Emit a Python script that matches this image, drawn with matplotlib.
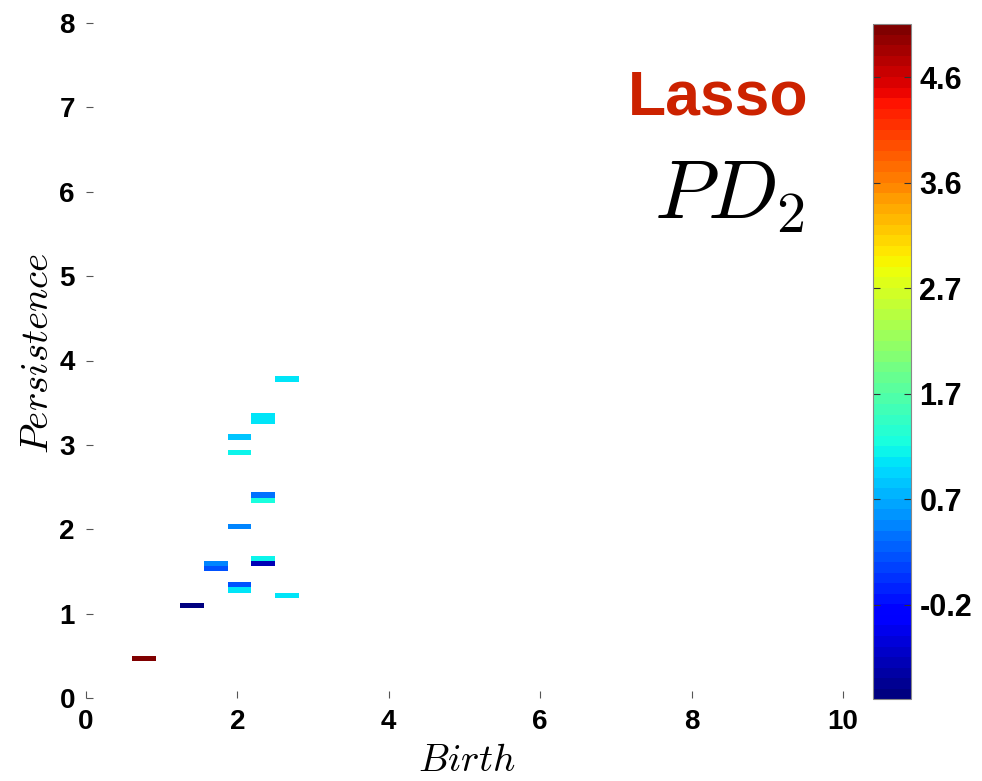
import numpy as np
import matplotlib
matplotlib.use("Agg")
import matplotlib.pyplot as plt
from matplotlib.colors import ListedColormap

# Persistence-diagram cells: birth (bin centre), persistence (bin centre), coefficient
birth = [2.6575, 2.3425, 2.3425, 2.0275, 2.0275, 2.3425, 2.3425, 2.0275, 2.3425,
         2.3425, 1.7125, 1.7125, 2.0275, 2.0275, 2.6575, 1.3975, 0.7675]
persistence = [3.78125, 3.34375, 3.28125, 3.09375, 2.90625, 2.40625, 2.34375, 2.03125,
               1.65625, 1.59375, 1.59375, 1.53125, 1.34375, 1.28125, 1.21875, 1.09375, 0.46875]
coefficient = [1.08, 1.12, 1.12, 0.86, 1.15, 0.46, 1.25, 0.55,
               1.20, -0.68, 0.52, 0.27, 0.20, 1.06, 1.12, -1.06, 5.08]

x_ticks = [0, 2, 4, 6, 8, 10]
y_ticks = [0, 1, 2, 3, 4, 5, 6, 7, 8]
cbar_ticks = [-0.2, 0.76, 1.72, 2.68, 3.64, 4.6]
cbar_labels = ["-0.2", "0.7", "1.7", "2.7", "3.6", "4.6"]

# Grid used to rasterise the diagram
birth_start, birth_step, n_birth = 0.61, 0.315, 7
pers_step, n_pers = 0.0625, 64

plt.rcParams["mathtext.fontset"] = "cm"
plt.rcParams["font.family"] = ["Liberation Sans", "DejaVu Sans"]

x_edges = birth_start + birth_step * np.arange(n_birth + 1)
y_edges = pers_step * np.arange(n_pers + 1)
grid = np.full((n_pers, n_birth), np.nan)
for b, p, v in zip(birth, persistence, coefficient):
    i = int(np.floor(p / pers_step))
    j = int(np.floor((b - birth_start) / birth_step))
    grid[i, j] = v
grid = np.ma.masked_invalid(grid)

jet64 = ListedColormap(plt.get_cmap("jet")(np.linspace(0, 1, 64)))

fig = plt.figure(figsize=(9.82, 7.81), dpi=100)
ax = fig.add_axes([86 / 982, 1 - 698 / 781, 757 / 982, 675 / 781])
mesh = ax.pcolormesh(x_edges, y_edges, grid, cmap=jet64,
                     vmin=min(coefficient), vmax=max(coefficient))
ax.set_xlim(0, 10)
ax.set_ylim(0, 8)
ax.set_xticks(x_ticks)
ax.set_yticks(y_ticks)
for s in ax.spines.values():
    s.set_visible(False)
ax.tick_params(direction="in", length=5, width=0.8, color="#555555",
               labelsize=20, pad=8)
for lab in ax.get_xticklabels() + ax.get_yticklabels():
    lab.set_fontweight("bold")

ax.set_xlabel(r"$Birth$", fontsize=28)
ax.set_ylabel(r"$Persistence$", fontsize=28)
ax.xaxis.set_label_coords(0.503, -0.066)
ax.yaxis.set_label_coords(-0.040, 0.51)

fig.text(809 / 982, 1 - 98 / 781, "Lasso", color="#cc2200", fontsize=45,
         fontweight="bold", ha="right", va="center")
fig.text(805 / 982, 1 - 219 / 781, r"$PD_2$", fontsize=60, ha="right",
         va="baseline")

cax = fig.add_axes([873 / 982, 1 - 699.3 / 781, 38 / 982, 675 / 781])
cbar = fig.colorbar(mesh, cax=cax, ticks=cbar_ticks)
cbar.ax.set_yticklabels(cbar_labels)
cbar.outline.set_edgecolor("#888888")
cbar.outline.set_linewidth(0.8)
cax.tick_params(direction="in", left=True, right=True, length=5, width=0.8,
                color="#333333", labelsize=22, pad=6)
for lab in cax.get_yticklabels():
    lab.set_fontweight("bold")

fig.savefig("out.png", dpi=100)
